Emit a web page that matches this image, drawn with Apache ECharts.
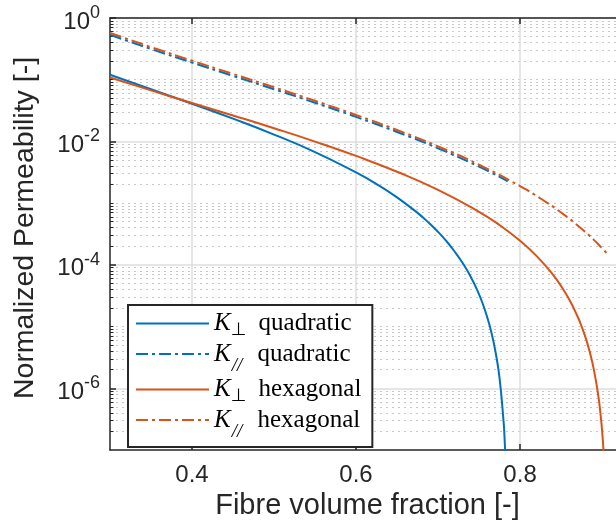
<!DOCTYPE html>
<html><head><meta charset="utf-8">
<script src="https://cdn.jsdelivr.net/npm/echarts@6/dist/echarts.min.js"></script>
<style>html,body{margin:0;padding:0;background:#fff}#c{width:616px;height:528px}</style>
</head><body><div id="c"></div>
<script>
// ---- data ----
const seriesNames = ['K⊥ quadratic', 'K// quadratic', 'K⊥ hexagonal', 'K// hexagonal'];

const xPerpQuad = [0.30, 0.35, 0.40, 0.45, 0.50, 0.55, 0.60, 0.625, 0.65, 0.675, 0.69, 0.70, 0.71, 0.72, 0.73, 0.74, 0.75, 0.755, 0.76, 0.765, 0.77, 0.775, 0.78, 0.781, 0.782];
const yPerpQuad = [0.1202, 0.0700, 0.0408, 0.0234, 0.01292, 0.00672, 0.00315, 0.00204, 0.00124, 0.000695, 0.000463, 0.000342, 0.000244, 0.000166, 0.000107, 6.35e-5, 3.33e-5, 2.24e-5, 1.41e-5, 8.1e-6, 3.95e-6, 1.46e-6, 2.8e-7, 1.68e-7, 8.8e-8];

const xParQuad = [0.30, 0.35, 0.40, 0.45, 0.50, 0.55, 0.60, 0.65, 0.70, 0.75, 0.785];
const yParQuad = [0.535, 0.315, 0.1895, 0.1153, 0.0702, 0.0423, 0.02495, 0.01424, 0.00773, 0.00390, 0.00226];

const xPerpHex = [0.30, 0.35, 0.40, 0.45, 0.50, 0.55, 0.60, 0.65, 0.70, 0.75, 0.775, 0.80, 0.82, 0.84, 0.85, 0.86, 0.87, 0.875, 0.88, 0.885, 0.89, 0.895, 0.898, 0.90, 0.901, 0.902];
const yPerpHex = [0.1083, 0.0671, 0.0420, 0.02635, 0.01636, 0.00994, 0.00582, 0.00323, 0.00164, 0.000724, 0.000442, 0.000246, 0.000140, 6.97e-5, 4.55e-5, 2.74e-5, 1.47e-5, 1.01e-5, 6.55e-6, 3.87e-6, 2.01e-6, 8.26e-7, 3.97e-7, 2.09e-7, 1.41e-7, 8.9e-8];

const xParHex = [0.30, 0.35, 0.40, 0.45, 0.50, 0.55, 0.60, 0.65, 0.70, 0.75, 0.80, 0.825, 0.85, 0.875, 0.89, 0.90, 0.9069];
const yParHex = [0.575, 0.338, 0.2038, 0.1240, 0.0755, 0.0455, 0.02683, 0.01532, 0.00832, 0.00419, 0.00189, 0.00119, 0.000705, 0.000385, 0.000254, 0.000186, 0.000148];

const xTicks = [0.4, 0.6, 0.8];
const xTickLabels = ['0.4', '0.6', '0.8'];
const yTickExps = [0, -2, -4, -6];
const yTickSup = ['0', '-2', '-4', '-6'];

// ---- styling ----
const BLUE = '#0072BD', ORANGE = '#D95319', AX = '#262626';
const SANS = 'Liberation Sans', SERIF = 'Liberation Serif';
const DASHDOT = [12, 4, 3, 4];

const minorExps = [];
for (let k = -7; k < 0; k++) {
  for (let m = 2; m <= 9; m++) minorExps.push(k + Math.log10(m));
  if (k % 2 !== 0 && k > -7) minorExps.push(k);
}

function pairs(xs, ys) { return xs.map((x, i) => [x, ys[i]]); }
function lookup(vals, labels, v) {
  for (let i = 0; i < vals.length; i++) if (Math.abs(vals[i] - v) < 1e-9) return labels[i];
  return '';
}

const chart = echarts.init(document.getElementById('c'), null, {renderer: 'canvas'});
const XMIN = 0.3, XMAX = 0.917;

chart.setOption({
  animation: false,
  backgroundColor: '#fff',
  grid: {left: 110, right: 0, top: 18, bottom: 78, containLabel: false},
  xAxis: [
    {
      type: 'value', min: XMIN, max: XMAX, position: 'bottom',
      axisLine: {show: true, onZero: false, lineStyle: {color: AX, width: 1.5}},
      axisTick: {show: true, inside: true, length: 6, customValues: xTicks, lineStyle: {color: AX, width: 1.5}},
      axisLabel: {show: true, customValues: xTicks, margin: 13, fontSize: 24, fontFamily: SANS, color: AX,
        formatter: v => lookup(xTicks, xTickLabels, v)},
      splitLine: {show: true, lineStyle: {color: '#dedede', width: 1.5}},
      name: 'Fibre volume fraction [-]', nameLocation: 'middle', nameGap: 41,
      nameTextStyle: {fontSize: 29, fontFamily: SANS, color: AX, padding: [0, 0, 0, 9]}
    },
    {
      type: 'value', min: XMIN, max: XMAX, position: 'top',
      axisLine: {show: true, onZero: false, lineStyle: {color: AX, width: 1.5}},
      axisTick: {show: true, inside: true, length: 6, customValues: xTicks, lineStyle: {color: AX, width: 1.5}},
      axisLabel: {show: false}, splitLine: {show: false}
    }
  ],
  yAxis: [
    {type: 'log', logBase: 10, min: 1e-7, max: 1, show: false},
    {
      type: 'value', min: -7, max: 0, position: 'left',
      axisLine: {show: true, onZero: false, lineStyle: {color: AX, width: 1.5}},
      axisTick: {show: true, inside: true, length: 6, customValues: yTickExps, lineStyle: {color: AX, width: 1.5}},
      axisLabel: {show: true, customValues: yTickExps, margin: 10, padding: [8, 0, 0, 0],
        formatter: v => '{b|10}{s|' + lookup(yTickExps, yTickSup, v) + '}',
        rich: {
          b: {fontSize: 24, lineHeight: 36, fontFamily: SANS, color: AX},
          s: {fontSize: 18, lineHeight: 18, fontFamily: SANS, color: AX, verticalAlign: 'top'}
        }},
      splitLine: {show: true, lineStyle: {color: '#dedede', width: 1.5}},
      name: 'Normalized Permeability [-]', nameLocation: 'middle', nameGap: 70,
      nameTextStyle: {fontSize: 28.5, fontFamily: SANS, color: AX, padding: [0, 0, 0, 12]}
    },
    {
      type: 'value', min: -7, max: 0, position: 'left',
      axisLine: {show: false},
      axisTick: {show: true, inside: true, length: 3.5, customValues: minorExps, lineStyle: {color: AX, width: 1}},
      axisLabel: {show: false},
      splitLine: {show: true, lineStyle: {color: '#c8c8c8', width: 1, type: [2, 4]}}
    }
  ],
  legend: {
    data: seriesNames, orient: 'vertical', left: 128, top: 305,
    padding: [6, 11, 6, 7], itemGap: 2, itemWidth: 73, itemHeight: 14,
    backgroundColor: '#fff', borderColor: AX, borderWidth: 2, borderRadius: 0,
    selectedMode: false,
    itemStyle: {opacity: 0, borderWidth: 0},
    formatter: name => {
      const sp = name.indexOf(' ');
      const sub = name.slice(1, sp);
      const rest = name.slice(sp);
      return '{k|K}{' + (sub === '⊥' ? 'p' : 'q') + '|' + sub + '}{t|' + rest + '}';
    },
    textStyle: {
      fontFamily: SERIF, fontSize: 25, color: '#000',
      rich: {
        k: {fontFamily: SERIF, fontStyle: 'italic', fontSize: 25, lineHeight: 24, color: '#000'},
        p: {fontFamily: 'DejaVu Sans', fontSize: 18, lineHeight: 14, padding: [10, 6, 0, 0], verticalAlign: 'top', color: '#000'},
        q: {fontFamily: SERIF, fontStyle: 'italic', fontSize: 19, lineHeight: 10, padding: [14, 9, 0, 1], verticalAlign: 'top', color: '#000'},
        t: {fontFamily: SERIF, fontSize: 25, lineHeight: 24, color: '#000'}
      }
    }
  },
  series: [
    {name: seriesNames[0], type: 'line', xAxisIndex: 0, yAxisIndex: 0, data: pairs(xPerpQuad, yPerpQuad),
      symbol: 'none', smooth: true, clip: true, itemStyle: {color: BLUE}, lineStyle: {color: BLUE, width: 2}},
    {name: seriesNames[1], type: 'line', xAxisIndex: 0, yAxisIndex: 0, data: pairs(xParQuad, yParQuad),
      symbol: 'none', smooth: true, clip: true, itemStyle: {color: BLUE}, lineStyle: {color: BLUE, width: 2, type: DASHDOT}},
    {name: seriesNames[2], type: 'line', xAxisIndex: 0, yAxisIndex: 0, data: pairs(xPerpHex, yPerpHex),
      symbol: 'none', smooth: true, clip: true, itemStyle: {color: ORANGE}, lineStyle: {color: ORANGE, width: 2}},
    {name: seriesNames[3], type: 'line', xAxisIndex: 0, yAxisIndex: 0, data: pairs(xParHex, yParHex),
      symbol: 'none', smooth: true, clip: true, itemStyle: {color: ORANGE}, lineStyle: {color: ORANGE, width: 2, type: DASHDOT}}
  ]
});
</script>
</body></html>
